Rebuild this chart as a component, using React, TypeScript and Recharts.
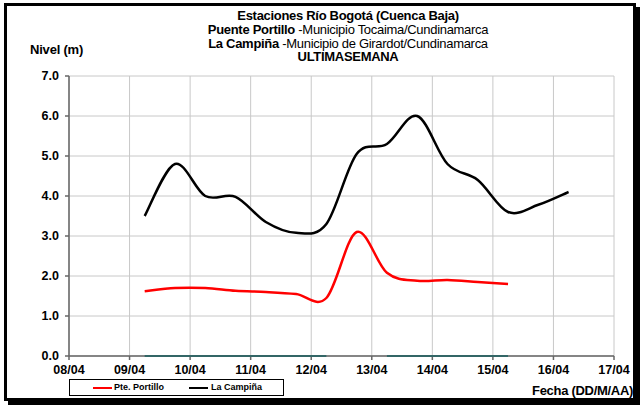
import { LineChart, Line, XAxis, YAxis, CartesianGrid } from 'recharts'

// lecturas cada 12 h (dia del mes, 06:00 y 18:00)
const dias = [9.25, 9.75, 10.25, 10.75, 11.25, 11.75, 12.25, 12.75, 13.25, 13.75, 14.25, 14.75, 15.25, 15.75, 16.25]
const laCampina = [3.5, 4.8, 4.0, 3.98, 3.35, 3.08, 3.3, 5.05, 5.3, 6.0, 4.8, 4.4, 3.6, 3.78, 4.1]
const ptePortillo = [1.62, 1.7, 1.7, 1.63, 1.6, 1.55, 1.45, 3.1, 2.08, 1.88, 1.9, 1.85, 1.8]
const sinDato = [0, 0, 0, 0, 0, 0, 0, null, 0, 0, 0, 0, 0]
const xTicks = [8, 9, 10, 11, 12, 13, 14, 15, 16, 17]
const yTicks = [0, 1, 2, 3, 4, 5, 6, 7]

const data = dias.map((d, i) => ({
  dia: d,
  campina: laCampina[i],
  portillo: ptePortillo[i] ?? null,
  cero: i < sinDato.length ? sinDato[i] : null,
}))

// suavizado tipo Excel (Catmull-Rom)
const excelCurve = (ctx: any) => {
  let xs: number[] = []
  let ys: number[] = []
  return {
    areaStart() {},
    areaEnd() {},
    lineStart() { xs = []; ys = [] },
    point(x: number, y: number) { xs.push(+x); ys.push(+y) },
    lineEnd() {
      const n = xs.length
      if (!n) return
      ctx.moveTo(xs[0], ys[0])
      for (let i = 0; i < n - 1; i++) {
        const a = i > 0 ? i - 1 : i
        const d = i + 2 < n ? i + 2 : i + 1
        const b = i, c = i + 1
        ctx.bezierCurveTo(
          xs[b] + (xs[c] - xs[a]) / 6, ys[b] + (ys[c] - ys[a]) / 6,
          xs[c] - (xs[d] - xs[b]) / 6, ys[c] - (ys[d] - ys[b]) / 6,
          xs[c], ys[c]
        )
      }
    },
  }
}

const font = '"Liberation Sans", Arial, sans-serif'
const tickStyle = { fontFamily: font, fontSize: 12.5, fontWeight: 700, fill: '#000' }

const App = () => {
  return (
    <div style={{ position: 'absolute', left: 0, top: 0, width: 642, height: 409, background: '#fff', fontFamily: font }}>
      <div style={{ position: 'absolute', left: 4, top: 3, width: 626, height: 392, border: '3px solid #000', boxShadow: '4px 4px 0 #000' }} />
      <div style={{ position: 'absolute', left: 148, top: 9, width: 400, textAlign: 'center', fontSize: 13, lineHeight: '13.8px', color: '#000', letterSpacing: -0.3 }}>
        <div style={{ fontWeight: 700 }}>Estaciones Río Bogotá (Cuenca Baja)</div>
        <div><b>Puente Portillo</b> -Municipio Tocaima/Cundinamarca</div>
        <div><b>La Campiña</b> -Municipio de Girardot/Cundinamarca</div>
        <div style={{ fontWeight: 700 }}>ULTIMASEMANA</div>
      </div>
      <div style={{ position: 'absolute', left: 30, top: 42, fontSize: 13, fontWeight: 700, letterSpacing: -0.2 }}>Nivel (m)</div>
      <div style={{ position: 'absolute', right: 9, top: 383, fontSize: 13, fontWeight: 700, letterSpacing: -0.3 }}>Fecha (DD/M/AA)</div>
      <div style={{ position: 'absolute', left: 69, top: 379, width: 213, height: 15, border: '1px solid #000', fontSize: 9, fontWeight: 700 }}>
        <div style={{ position: 'absolute', left: 23, top: 7, width: 19, height: 2, background: '#ff0000' }} />
        <div style={{ position: 'absolute', left: 44, top: 1.5 }}>Pte. Portillo</div>
        <div style={{ position: 'absolute', left: 119, top: 7, width: 19, height: 2, background: '#000' }} />
        <div style={{ position: 'absolute', left: 141, top: 1.5 }}>La Campiña</div>
      </div>
      <div style={{ position: 'absolute', left: 0, top: 0 }}>
        <LineChart width={642} height={409} data={data} margin={{ top: 76, right: 28, bottom: 33, left: 25 }}>
          <CartesianGrid stroke="#c8c8c8" strokeWidth={1} />
          <XAxis
            dataKey="dia"
            type="number"
            domain={[8, 17]}
            ticks={xTicks}
            tickFormatter={(d: number) => `${String(d).padStart(2, '0')}/04`}
            tick={tickStyle}
            stroke="#666"
            strokeWidth={1.5}
            tickSize={4}
            tickMargin={5}
            height={20}
            interval={0}
          />
          <YAxis
            type="number"
            domain={[0, 7]}
            ticks={yTicks}
            tickFormatter={(v: number) => v.toFixed(1)}
            tick={tickStyle}
            stroke="#666"
            strokeWidth={1.5}
            tickSize={4}
            tickMargin={6}
            width={44}
          />
          <Line dataKey="cero" type={excelCurve as any} stroke="#336666" strokeWidth={2} dot={false} isAnimationActive={false} {...({ zIndex: 900 } as any)} />
          <Line dataKey="portillo" type={excelCurve as any} stroke="#ff0000" strokeWidth={2.5} dot={false} isAnimationActive={false} />
          <Line dataKey="campina" type={excelCurve as any} stroke="#000" strokeWidth={2.5} dot={false} isAnimationActive={false} />
        </LineChart>
      </div>
    </div>
  )
}

export default App
